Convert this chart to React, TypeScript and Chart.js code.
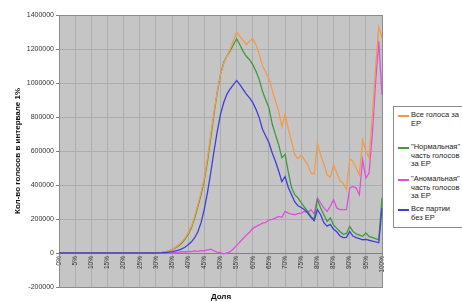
import React, { useEffect, useRef } from "react";
import { Chart, registerables } from "chart.js";

Chart.register(...registerables);

const FONT = "'Liberation Sans', Arial, sans-serif";

// Categories: share of votes for ER, 1% bins, 0%..100%
const categories: string[] = Array.from({ length: 101 }, (_, i) => `${i}%`);

// Y axis range / step
const yMin = -200000;
const yMax = 1400000;
const yStep = 200000;

// "Все голоса за ЕР"
const allEr = [
  0, 0, 0, 0, 0, 0, 0, 0, 0, 0,
  0, 0, 0, 0, 0, 0, 0, 0, 0, 0,
  0, 0, 0, 0, 0, 0, 0, 0, 0, 0,
  0, 2000, 4000, 7000, 12000, 20000, 33000, 47000, 66000, 88000,
  120000, 158000, 217000, 285000, 359000, 442000, 563000, 702000, 832000, 950000,
  1052000, 1115000, 1160000, 1198000, 1250000, 1300000, 1274000, 1250000, 1225000, 1245000,
  1260000, 1225000, 1170000, 1100000, 1065000, 1025000, 960000, 895000, 835000, 740000,
  814000, 730000, 655000, 578000, 555000, 575000, 549000, 520000, 470000, 465000,
  645000, 578000, 525000, 460000, 445000, 520000, 470000, 425000, 410000, 372000,
  555000, 540000, 500000, 460000, 665000, 600000, 560000, 800000, 1090000, 1330000,
  1265000,
];

// "Нормальная" часть голосов за ЕР
const normalEr = [
  0, 0, 0, 0, 0, 0, 0, 0, 0, 0,
  0, 0, 0, 0, 0, 0, 0, 0, 0, 0,
  0, 0, 0, 0, 0, 0, 0, 0, 0, 0,
  0, 2000, 4000, 7000, 12000, 20000, 30000, 42000, 58000, 82000,
  110000, 150000, 205000, 275000, 345000, 430000, 545000, 680000, 820000, 945000,
  1050000, 1120000, 1160000, 1190000, 1225000, 1260000, 1225000, 1186000, 1157000, 1137000,
  1108000, 1069000, 1020000, 951000, 902000, 853000, 760000, 696000, 637000, 560000,
  580000, 475000, 385000, 343000, 324000, 295000, 270000, 245000, 215000, 198000,
  314000, 265000, 225000, 186000, 206000, 165000, 145000, 127000, 110000, 115000,
  157000, 127000, 112000, 105000, 98000, 118000, 98000, 92000, 85000, 78000,
  325000,
];

// "Аномальная" часть голосов за ЕР
const anomalousEr = [
  0, 0, 0, 0, 0, 0, 0, 0, 0, 0,
  0, 0, 0, 0, 0, 0, 0, 0, 0, 0,
  0, 0, 0, 0, 0, 0, 0, 0, 0, 0,
  0, 0, 0, 0, 0, 0, 3000, 5000, 8000, 6000,
  10000, 8000, 12000, 10000, 14000, 12000, 18000, 22000, 12000, 5000,
  2000, -5000, 0, 8000, 25000, 45000, 65000, 85000, 105000, 122000,
  145000, 155000, 165000, 176000, 180000, 195000, 198000, 205000, 215000, 210000,
  245000, 235000, 228000, 225000, 232000, 235000, 245000, 238000, 255000, 230000,
  324000, 294000, 265000, 245000, 275000, 314000, 265000, 255000, 255000, 255000,
  382000, 392000, 382000, 343000, 549000, 441000, 470000, 700000, 1000000, 1245000,
  931000,
];

// "Все партии без ЕР"
const otherParties = [
  0, 0, 0, 0, 0, 0, 0, 0, 0, 0,
  0, 0, 0, 0, 0, 0, 0, 0, 0, 0,
  0, 0, 0, 0, 0, 0, 0, 0, 0, 0,
  0, 1000, 2000, 3000, 5000, 8000, 12000, 17000, 24000, 34000,
  48000, 66000, 90000, 125000, 180000, 260000, 360000, 475000, 600000, 715000,
  815000, 885000, 935000, 965000, 990000, 1015000, 990000, 962000, 935000, 912000,
  885000, 845000, 795000, 728000, 688000, 648000, 590000, 540000, 482000, 420000,
  450000, 385000, 343000, 300000, 278000, 268000, 255000, 235000, 210000, 190000,
  255000, 225000, 178000, 158000, 168000, 140000, 125000, 100000, 90000, 92000,
  127000, 100000, 90000, 85000, 78000, 80000, 75000, 70000, 65000, 60000,
  265000,
];

const seriesNames = [
  "Все голоса за ЕР",
  "\"Нормальная\" часть голосов за ЕР",
  "\"Аномальная\" часть голосов за ЕР",
  "Все партии без ЕР",
];
const legendLines = [
  ["Все голоса за", "ЕР"],
  ["\"Нормальная\"", "часть голосов", "за ЕР"],
  ["\"Аномальная\"", "часть голосов", "за ЕР"],
  ["Все партии", "без ЕР"],
];
const seriesColors = ["#f39a4e", "#3f9a3f", "#e04ee0", "#3f3fd6"];

const plotArea = {
  id: "plotArea",
  beforeDraw(chart: any) {
    const { ctx, chartArea: a } = chart;
    ctx.save();
    ctx.fillStyle = "#c5c5c5";
    ctx.fillRect(a.left, a.top, a.right - a.left, a.bottom - a.top);
    ctx.restore();
  },
  beforeDatasetsDraw(chart: any) {
    const { ctx, chartArea: a } = chart;
    ctx.save();
    ctx.strokeStyle = "#8c8c8c";
    ctx.lineWidth = 1;
    ctx.strokeRect(Math.round(a.left) + 0.5, Math.round(a.top) + 0.5, Math.round(a.right - a.left), Math.round(a.bottom - a.top));
    ctx.restore();
  },
};

export default function App() {
  const ref = useRef<HTMLCanvasElement | null>(null);

  useEffect(() => {
    if (!ref.current) return;
    const data = [allEr, normalEr, anomalousEr, otherParties];
    const chart = new Chart(ref.current, {
      type: "line",
      data: {
        labels: categories,
        datasets: data.map((d, i) => ({
          label: seriesNames[i],
          data: d,
          borderColor: seriesColors[i],
          backgroundColor: seriesColors[i],
          borderWidth: 1.3,
          pointRadius: 0,
          tension: 0,
          fill: false,
          order: i === 3 ? 0 : i + 1,
        })),
      },
      plugins: [plotArea],
      options: {
        animation: false,
        responsive: true,
        maintainAspectRatio: false,
        layout: { padding: { left: 0, right: 80, top: 15, bottom: 15 } },
        plugins: {
          legend: { display: false },
          tooltip: { enabled: false },
          title: { display: false },
        },
        scales: {
          x: {
            type: "category",
            position: { y: 0 } as any,
            offset: false,
            grid: {
              color: (c: any) => (c.index % 5 === 0 ? "#adadad" : "rgba(0,0,0,0)"),
              drawTicks: false,
            },
            border: { color: "#808080" },
            ticks: {
              autoSkip: false,
              maxRotation: 90,
              minRotation: 90,
              padding: 3,
              color: "#333",
              font: { family: FONT, size: 6.5 },
              callback: (_v: any, i: number) => (i % 5 === 0 ? categories[i] : ""),
            },
          },
          y: {
            min: yMin,
            max: yMax,
            afterFit: (s: any) => {
              s.width = 59;
            },
            ticks: {
              stepSize: yStep,
              color: "#333",
              padding: 2,
              font: { family: FONT, size: 7 },
              callback: (v: any) => String(v),
            },
            grid: { color: "#adadad", tickLength: 3, tickColor: "#808080" },
            border: { color: "#808080" },
            title: {
              display: true,
              text: "Кол-во голосов в интервале 1%",
              color: "#111",
              font: { family: FONT, size: 8, weight: "bold" },
              padding: { top: 13, bottom: 0 },
            },
          },
        },
      },
    });
    return () => chart.destroy();
  }, []);

  return (
    <div
      style={{
        position: "fixed",
        left: 0,
        top: 0,
        width: 462,
        height: 302,
        overflow: "hidden",
        background: "#fff",
        fontFamily: FONT,
      }}
    >
      <canvas ref={ref} style={{ position: "absolute", left: 0, top: 0 }} />
      <div
        style={{
          position: "absolute",
          left: 200,
          width: 42,
          top: 292,
          textAlign: "center",
          fontWeight: "bold",
          fontSize: 8,
          color: "#111",
          lineHeight: "10px",
        }}
      >
        Доля
      </div>
      <div
        style={{
          position: "absolute",
          left: 393,
          top: 106,
          width: 90,
          height: 120,
          border: "1px solid #8c8c8c",
          background: "#fff",
        }}
      >
        {legendLines.map((lines, i) => {
          const tops = [4, 36, 68, 98];
          return (
            <div key={i} style={{ position: "absolute", left: 0, top: tops[i], width: 90, height: 30 }}>
              <div
                style={{
                  position: "absolute",
                  left: 4,
                  top: 4,
                  width: 11,
                  height: 1.5,
                  background: seriesColors[i],
                }}
              />
              <div
                style={{
                  position: "absolute",
                  left: 17,
                  top: 0,
                  fontSize: 7.5,
                  lineHeight: "8.6px",
                  color: "#222",
                  whiteSpace: "nowrap",
                }}
              >
                {lines.map((l, j) => (
                  <div key={j}>{l}</div>
                ))}
              </div>
            </div>
          );
        })}
      </div>
    </div>
  );
}
